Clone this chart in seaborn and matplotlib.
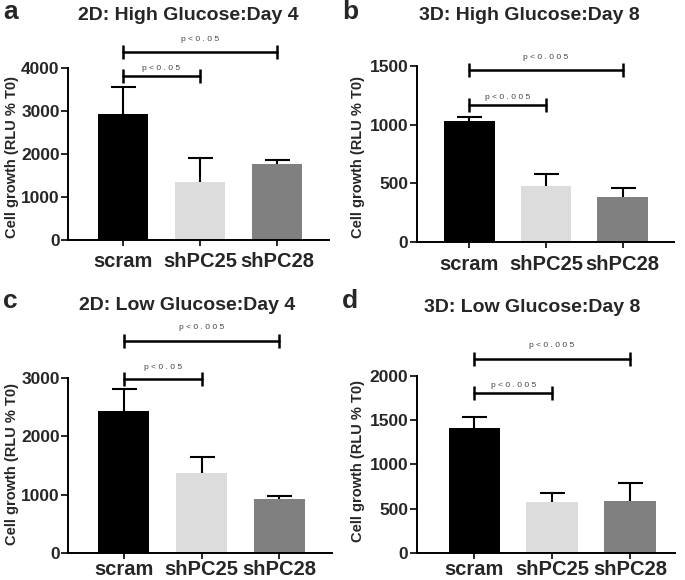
import numpy as np
import pandas as pd
import matplotlib
matplotlib.use("Agg")
import matplotlib.pyplot as plt
import seaborn as sns

sns.set_style("ticks")
plt.rcParams['font.family'] = ['Liberation Sans', 'DejaVu Sans']

# ---------------- data ----------------
groups = ["scram", "shPC25", "shPC28"]
colors = ["#000000", "#dcdcdc", "#808080"]

titles = ["2D: High Glucose:Day 4", "3D: High Glucose:Day 8",
          "2D: Low Glucose:Day 4", "3D: Low Glucose:Day 8"]
letters = ["a", "b", "c", "d"]

means_a = [2920, 1340, 1760]
err_a = [640, 560, 100]
means_b = [1030, 481, 387]
err_b = [37, 99, 71]
means_c = [2437, 1376, 918]
err_c = [379, 265, 57]
means_d = [1415, 570, 589]
err_d = [124, 109, 196]

yticks_a = [0, 1000, 2000, 3000, 4000]
yticks_b = [0, 500, 1000, 1500]
yticks_c = [0, 1000, 2000, 3000]
yticks_d = [0, 500, 1000, 1500, 2000]

# significance brackets: (from, to, bracket y, text y, label)
sig_a = [(0, 1, 3814, 4000, "p < 0 . 0 5"), (0, 2, 4379, 4667, "p < 0 . 0 5")]
sig_b = [(0, 1, 1166, 1228, "p < 0 . 0 0 5"), (0, 2, 1463, 1571, "p < 0 . 0 0 5")]
sig_c = [(0, 1, 2983, 3189, "p < 0 . 0 5"), (0, 2, 3647, 3870, "p < 0 . 0 0 5")]
sig_d = [(0, 1, 1804, 1887, "p < 0 . 0 0 5"), (0, 2, 2192, 2343, "p < 0 . 0 0 5")]

panels = [
    dict(means=means_a, err=err_a, yticks=yticks_a, sig=sig_a),
    dict(means=means_b, err=err_b, yticks=yticks_b, sig=sig_b),
    dict(means=means_c, err=err_c, yticks=yticks_c, sig=sig_c),
    dict(means=means_d, err=err_d, yticks=yticks_d, sig=sig_d),
]

# ---------------- layout (pixels) ----------------
W, H = 685, 580
rects_px = [(68, 329, 68, 240), (416.7, 674, 65.7, 242.3),
            (68.3, 331.7, 378.3, 552.7), (416.7, 675, 376, 552.7)]
xlims = [(-0.714, 2.675), (-0.686, 2.669), (-0.714, 2.675), (-0.74, 2.58)]
xpads = [5, 5, 1.5, 1.5]
title_pos = [(188, 15), (529, 16), (187, 305), (532, 308)]
letter_pos = [(3, 12), (342, 12), (3, 301), (342, 301)]
ylabel_pos = [(12, 157), (358, 157), (12, 464), (358, 461)]

fig = plt.figure(figsize=(W / 100, H / 100), dpi=100)

for i, p in enumerate(panels):
    l, r, t, b = rects_px[i]
    ax = fig.add_axes([l / W, 1 - b / H, (r - l) / W, (b - t) / H])
    df = pd.DataFrame({"group": groups, "value": p["means"]})
    sns.barplot(data=df, x="group", y="value", hue="group", palette=colors,
                order=groups, hue_order=groups, legend=False, errorbar=None,
                width=0.66, ax=ax, saturation=1, linewidth=0, zorder=2)
    xs = np.arange(len(groups))
    eb = ax.errorbar(xs, p["means"], yerr=[np.zeros(len(groups)), p["err"]],
                     fmt="none", ecolor="black", elinewidth=1.5, capsize=9,
                     capthick=1.5, zorder=3)
    for cl in eb[1]:
        if np.allclose(cl.get_ydata(), p["means"]):
            cl.set_visible(False)
    ax.set_xlim(*xlims[i])
    ax.set_ylim(0, p["yticks"][-1])
    ax.set_yticks(p["yticks"])
    ax.set_xlabel("")
    ax.set_ylabel("")
    sns.despine(ax=ax)
    for s in ["left", "bottom"]:
        ax.spines[s].set_linewidth(1.4)
        ax.spines[s].set_color("black")
    ax.tick_params(axis="y", direction="out", length=5, width=1.4,
                   labelsize=12.5, pad=1)
    ax.tick_params(axis="x", direction="out", length=4, width=1.4,
                   labelsize=14.5, pad=xpads[i])
    for lab in ax.get_yticklabels() + ax.get_xticklabels():
        lab.set_fontweight("bold")

    for (x0, x1, yb, yt, txt) in p["sig"]:
        ax.plot([x0, x1], [yb, yb], color="black", lw=1.8, marker="|",
                markersize=10, mew=1.8, clip_on=False, zorder=4)
        ax.text((x0 + x1) / 2, yt, txt, ha="center", va="center",
                fontsize=6, color="#444444", clip_on=False)

    tx, ty = title_pos[i]
    fig.text(tx / W, 1 - ty / H, titles[i], ha="center", va="center",
             fontsize=14, fontweight="bold")
    lx, ly = letter_pos[i]
    fig.text(lx / W, 1 - ly / H, letters[i], ha="left", va="center",
             fontsize=19, fontweight="bold")
    yx, yy = ylabel_pos[i]
    fig.text(yx / W, 1 - yy / H, "Cell growth (RLU % T0)", ha="center",
             va="center", rotation=90, fontsize=10.5, fontweight="bold")

fig.savefig("out.png", dpi=100)
